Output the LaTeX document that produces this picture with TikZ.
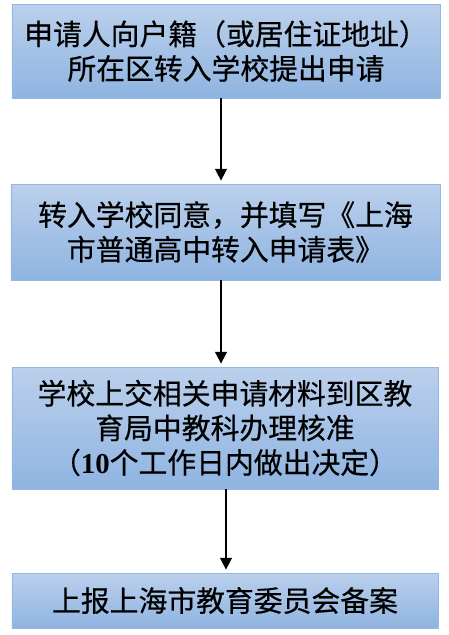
\documentclass[tikz,border=0pt]{standalone}
\usepackage{fontspec}
\newfontfamily\cjk{Noto Sans CJK SC}[FakeBold=0.5]
\newfontfamily\numfont{Liberation Serif}
\usepackage{tikz}
\usetikzlibrary{arrows.meta}
\definecolor{boxtop}{HTML}{BBD0EC}
\definecolor{boxbottom}{HTML}{8FB4E1}
\definecolor{boxline}{HTML}{95B8E3}
\tikzset{
    stepbox/.style={draw=boxline, line width=0.8pt, top color=boxtop, bottom color=boxbottom,
        inner sep=0pt, align=center, font=\cjk\fontsize{24.6}{29.5}\selectfont},
    flow/.style={-{Triangle[width=10pt,length=10pt]}, line width=1.4pt, shorten >=2.5pt}
}

\begin{document}
\begin{tikzpicture}[x=0.03cm, y=-0.03cm]
    \useasboundingbox (0,0) rectangle (449,635);
    \node[stepbox, minimum width=12.84cm, minimum height=2.82cm] (apply) at (226,51)
        {申请人向户籍（或居住证地址）\\所在区转入学校提出申请};
    \node[stepbox, minimum width=12.87cm, minimum height=2.88cm] (agree) at (225.5,232)
        {转入学校同意，并填写《上海\\市普通高中转入申请表》};
    \node[stepbox, minimum width=12.78cm, minimum height=3.66cm] (submit) at (225,428)
        {学校上交相关申请材料到区教\\育局中教科办理核准\\（{\numfont\bfseries 10}个工作日内做出决定）};
    \node[stepbox, minimum width=12.78cm, minimum height=1.65cm] (record) at (225,600.5)
        {上报上海市教育委员会备案};
    \draw[flow] ([xshift=-0.15cm]apply.south) -- ([xshift=-0.15cm]apply.south |- agree.north);
    \draw[flow] ([xshift=-0.135cm]agree.south) -- ([xshift=-0.135cm]agree.south |- submit.north);
    \draw[flow] ([xshift=0.03cm]submit.south) -- ([xshift=0.03cm]submit.south |- record.north);
\end{tikzpicture}
\end{document}
